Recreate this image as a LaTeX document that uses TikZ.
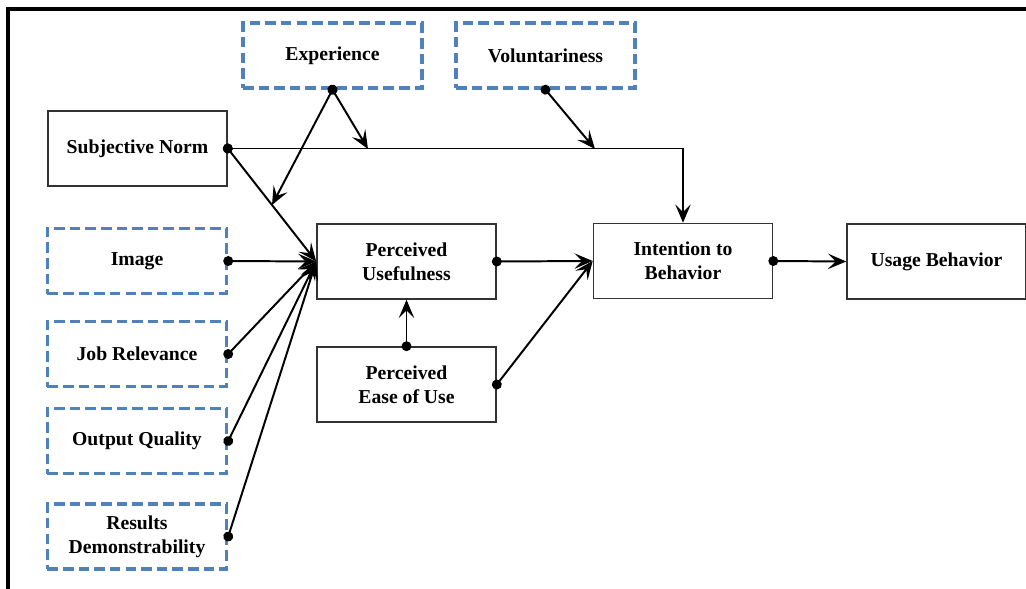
\documentclass[tikz,border=0pt]{standalone}
\usepackage{fontspec}
\setmainfont{Liberation Serif}
\usetikzlibrary{arrows.meta,calc}
\definecolor{dashblue}{RGB}{79,129,189}
\tikzset{
	box/.style={draw=black!80, line width=1.1pt, minimum width=4.475cm, minimum height=1.875cm, align=center, font=\bfseries\fontsize{14}{17}\selectfont},
	modbox/.style={box, draw=dashblue, line width=2.4pt, dash pattern=on 7.5pt off 3.6pt, minimum height=1.625cm},
	link/.style={line width=1.4pt, {Circle[length=7pt,sep=-3.5pt]}-{Stealth[length=13pt,width=11pt,inset=5.5pt]}},
}

\begin{document}
\begin{tikzpicture}[x=0.025cm, y=-0.025cm]
			%%%%% START %%%%%
			\useasboundingbox (0, 0) rectangle (1026, 589);
			\draw[line width=2.2pt] (8, 589) -- (8, 9) -- (1026, 9);
			
			% moderators
			\node[modbox] (exp) at (332.5, 55.5) {Experience};
			\node[modbox] (vol) at (545.5, 55.5) {Voluntariness};
			
			% left column
			\node[box] (sn) at (137.5, 148.5) {Subjective Norm};
			\node[modbox] (img) at (137, 261) {Image};
			\node[modbox] (job) at (137, 354) {Job Relevance};
			\node[modbox] (out) at (137, 441) {Output Quality};
			\node[modbox] (res) at (137, 536.5) {Results\\Demonstrability};
			
			% core model
			\node[box] (pu) at (406.5, 261.5) {Perceived\\Usefulness};
			\node[box] (peou) at (406.5, 384.5) {Perceived\\Ease of Use};
			\node[box] (itb) at (683, 261) {Intention to\\Behavior};
			\node[box] (ub) at (936.5, 261.5) {Usage Behavior};
			
			\coordinate (expA) at (368, 149);
			\coordinate (expB) at ($(sn.east)!0.5!(pu.west)$);
			\coordinate (volA) at (595, 149);
			
			\draw[link] (sn.east) -| (itb.north);
			\draw[link] (sn.east) -- (pu.west);
			\draw[link] (exp.south) -- (expA);
			\draw[link] (exp.south) -- (expB);
			\draw[link] (vol.south) -- (volA);
			
			\draw[link] (img.east) -- (pu.west);
			\draw[link] (job.east) -- (pu.west);
			\draw[link] (out.east) -- (pu.west);
			\draw[link] (res.east) -- (pu.west);
			
			\draw[link] (peou.north) -- (pu.south);
			\draw[link] (pu.east) -- (itb.west);
			\draw[link] (peou.east) -- (itb.west);
			\draw[link] (itb.east) -- (ub.west);
			%%%%% END %%%%%
\end{tikzpicture}
\end{document}
